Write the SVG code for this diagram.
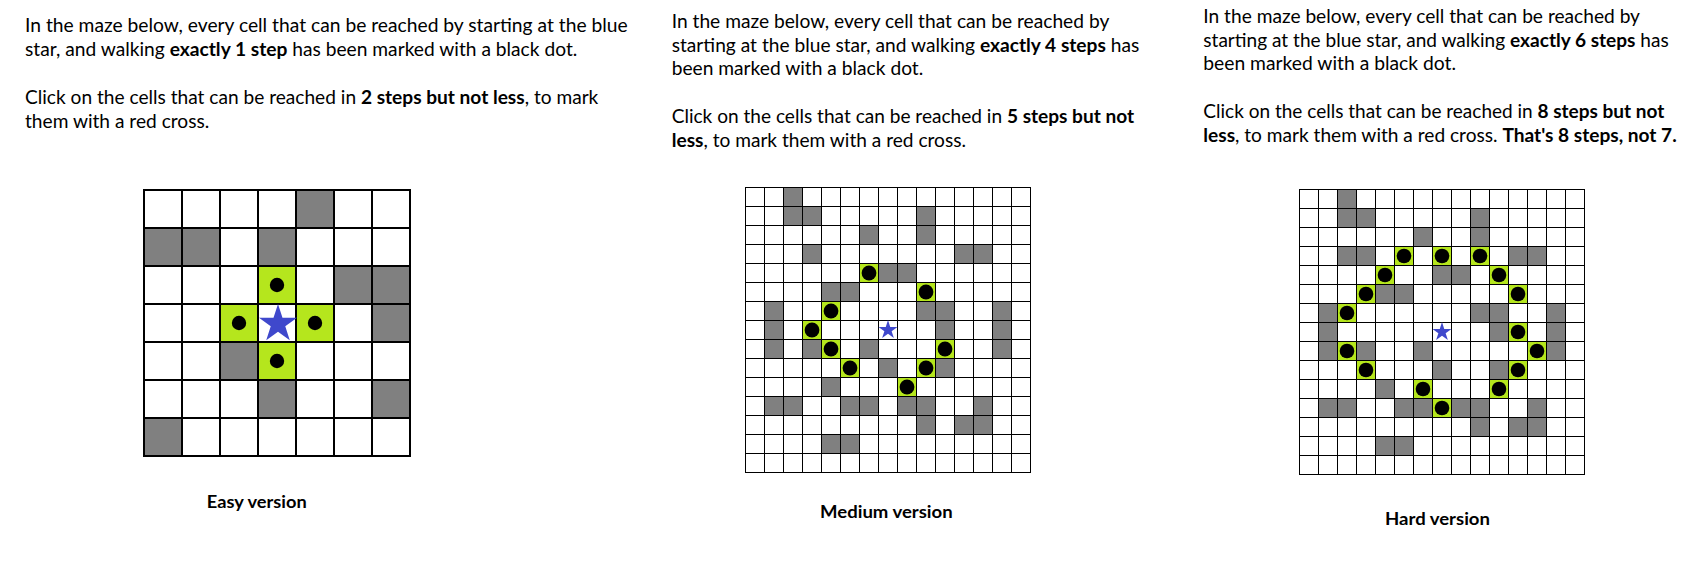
<svg xmlns="http://www.w3.org/2000/svg" xmlns:xlink="http://www.w3.org/1999/xlink" width="1705" height="585" viewBox="0 0 1705 585">
<style>
.t{font-family:Lato,"Liberation Sans",sans-serif;font-size:18.5px;fill:#000}
.b{font-weight:bold}
.lab{font-family:Lato,"Liberation Sans",sans-serif;font-size:16.5px;font-weight:bold;fill:#000}
.g{fill:#808080}
.y{fill:#b5e61d}
.d{fill:#000}
.s{fill:#3f48cc}
.g1{stroke:#000;stroke-width:2;fill:none;stroke-linecap:square}
.g2{stroke:#000;stroke-width:1;fill:none;stroke-linecap:square}
</style>
<defs>
<polygon id="star" points="0,-1 0.2245,-0.309 0.9511,-0.309 0.3633,0.118 0.5878,0.809 0,0.382 -0.5878,0.809 -0.3633,0.118 -0.9511,-0.309 -0.2245,-0.309"/>
<path id="grid7" d="M0 0V266M38 0V266M76 0V266M114 0V266M152 0V266M190 0V266M228 0V266M266 0V266M0 0H266M0 38H266M0 76H266M0 114H266M0 152H266M0 190H266M0 228H266M0 266H266"/>
<path id="grid15" d="M0 0V285M19 0V285M38 0V285M57 0V285M76 0V285M95 0V285M114 0V285M133 0V285M152 0V285M171 0V285M190 0V285M209 0V285M228 0V285M247 0V285M266 0V285M285 0V285M0 0H285M0 19H285M0 38H285M0 57H285M0 76H285M0 95H285M0 114H285M0 133H285M0 152H285M0 171H285M0 190H285M0 209H285M0 228H285M0 247H285M0 266H285M0 285H285"/>
<g id="walls15" class="g">
<rect x="38" y="0" width="19" height="19"/>
<rect x="38" y="19" width="38" height="19"/><rect x="171" y="19" width="19" height="19"/>
<rect x="114" y="38" width="19" height="19"/><rect x="171" y="38" width="19" height="19"/>
<rect x="57" y="57" width="19" height="19"/><rect x="209" y="57" width="38" height="19"/>
<rect x="133" y="76" width="38" height="19"/>
<rect x="76" y="95" width="38" height="19"/>
<rect x="19" y="114" width="19" height="19"/><rect x="171" y="114" width="38" height="19"/><rect x="247" y="114" width="19" height="19"/>
<rect x="19" y="133" width="19" height="19"/><rect x="190" y="133" width="19" height="19"/><rect x="247" y="133" width="19" height="19"/>
<rect x="19" y="152" width="19" height="19"/><rect x="57" y="152" width="19" height="19"/><rect x="114" y="152" width="19" height="19"/><rect x="247" y="152" width="19" height="19"/>
<rect x="133" y="171" width="19" height="19"/><rect x="190" y="171" width="19" height="19"/>
<rect x="76" y="190" width="19" height="19"/>
<rect x="19" y="209" width="38" height="19"/><rect x="95" y="209" width="38" height="19"/><rect x="152" y="209" width="38" height="19"/><rect x="228" y="209" width="19" height="19"/>
<rect x="171" y="228" width="19" height="19"/><rect x="209" y="228" width="38" height="19"/>
<rect x="76" y="247" width="38" height="19"/>
</g>
</defs>

<g id="easy-text">
<text class="t" x="25" y="32.3" textLength="602.7" lengthAdjust="spacingAndGlyphs">In the maze below, every cell that can be reached by starting at the blue</text>
<text class="t" x="25" y="55.7" textLength="552.3" lengthAdjust="spacingAndGlyphs">star, and walking <tspan class="b">exactly 1 step</tspan> has been marked with a black dot.</text>
<text class="t" x="25" y="104" textLength="573.3" lengthAdjust="spacingAndGlyphs">Click on the cells that can be reached in <tspan class="b">2 steps but not less</tspan>, to mark</text>
<text class="t" x="25" y="127.7" textLength="184.3" lengthAdjust="spacingAndGlyphs">them with a red cross.</text>
</g>

<g id="medium-text">
<text class="t" x="671.7" y="28.3" textLength="437.6" lengthAdjust="spacingAndGlyphs">In the maze below, every cell that can be reached by</text>
<text class="t" x="671.7" y="51.7" textLength="467.6" lengthAdjust="spacingAndGlyphs">starting at the blue star, and walking <tspan class="b">exactly 4 steps</tspan> has</text>
<text class="t" x="671.7" y="75" textLength="251.6" lengthAdjust="spacingAndGlyphs">been marked with a black dot.</text>
<text class="t" x="671.7" y="123.3" textLength="462.3" lengthAdjust="spacingAndGlyphs">Click on the cells that can be reached in <tspan class="b">5 steps but not</tspan></text>
<text class="t" x="671.7" y="146.7" textLength="294.3" lengthAdjust="spacingAndGlyphs"><tspan class="b">less</tspan>, to mark them with a red cross.</text>
</g>

<g id="hard-text">
<text class="t" x="1203.3" y="23.3" textLength="436.7" lengthAdjust="spacingAndGlyphs">In the maze below, every cell that can be reached by</text>
<text class="t" x="1203.3" y="46.7" textLength="465.4" lengthAdjust="spacingAndGlyphs">starting at the blue star, and walking <tspan class="b">exactly 6 steps</tspan> has</text>
<text class="t" x="1203.3" y="70" textLength="252.7" lengthAdjust="spacingAndGlyphs">been marked with a black dot.</text>
<text class="t" x="1203.3" y="118.3" textLength="461" lengthAdjust="spacingAndGlyphs">Click on the cells that can be reached in <tspan class="b">8 steps but not</tspan></text>
<text class="t" x="1203.3" y="141.7" textLength="473.4" lengthAdjust="spacingAndGlyphs"><tspan class="b">less</tspan>, to mark them with a red cross. <tspan class="b">That's 8 steps, not 7.</tspan></text>
</g>

<g id="easy-maze" transform="translate(144 190)">
<rect x="0" y="0" width="266" height="266" fill="#fff"/>
<g class="g">
<rect x="152" y="0" width="38" height="38"/>
<rect x="0" y="38" width="76" height="38"/>
<rect x="114" y="38" width="38" height="38"/>
<rect x="190" y="76" width="76" height="38"/>
<rect x="228" y="114" width="38" height="38"/>
<rect x="76" y="152" width="38" height="38"/>
<rect x="114" y="190" width="38" height="38"/>
<rect x="228" y="190" width="38" height="38"/>
<rect x="0" y="228" width="38" height="38"/>
</g>
<g class="y">
<rect x="114" y="76" width="38" height="38"/>
<rect x="76" y="114" width="38" height="38"/>
<rect x="152" y="114" width="38" height="38"/>
<rect x="114" y="152" width="38" height="38"/>
</g>
<use xlink:href="#grid7" class="g1"/>
<g class="d">
<circle cx="133" cy="95" r="7.2"/>
<circle cx="95" cy="133" r="7.2"/>
<circle cx="171" cy="133" r="7.2"/>
<circle cx="133" cy="171" r="7.2"/>
</g>
<use xlink:href="#star" class="s" transform="translate(134 134) scale(20)"/>
</g>

<g id="medium-maze" transform="translate(745.5 187.5)">
<rect x="0" y="0" width="285" height="285" fill="#fff"/>
<use xlink:href="#walls15"/>
<g class="y">
<rect x="114" y="76" width="19" height="19"/>
<rect x="171" y="95" width="19" height="19"/>
<rect x="76" y="114" width="19" height="19"/>
<rect x="57" y="133" width="19" height="19"/>
<rect x="76" y="152" width="19" height="19"/>
<rect x="190" y="152" width="19" height="19"/>
<rect x="95" y="171" width="19" height="19"/>
<rect x="171" y="171" width="19" height="19"/>
<rect x="152" y="190" width="19" height="19"/>
</g>
<use xlink:href="#grid15" class="g2"/>
<g class="d">
<circle cx="123.5" cy="85.5" r="7.4"/>
<circle cx="180.5" cy="104.5" r="7.4"/>
<circle cx="85.5" cy="123.5" r="7.4"/>
<circle cx="66.5" cy="142.5" r="7.4"/>
<circle cx="85.5" cy="161.5" r="7.4"/>
<circle cx="199.5" cy="161.5" r="7.4"/>
<circle cx="104.5" cy="180.5" r="7.4"/>
<circle cx="180.5" cy="180.5" r="7.4"/>
<circle cx="161.5" cy="199.5" r="7.4"/>
</g>
<use xlink:href="#star" class="s" transform="translate(142.5 142.5) scale(10)"/>
</g>

<g id="hard-maze" transform="translate(1299.5 189.5)">
<rect x="0" y="0" width="285" height="285" fill="#fff"/>
<use xlink:href="#walls15"/>
<rect class="g" x="38" y="57" width="19" height="19"/>
<g class="y">
<rect x="95" y="57" width="19" height="19"/>
<rect x="133" y="57" width="19" height="19"/>
<rect x="171" y="57" width="19" height="19"/>
<rect x="76" y="76" width="19" height="19"/>
<rect x="190" y="76" width="19" height="19"/>
<rect x="57" y="95" width="19" height="19"/>
<rect x="209" y="95" width="19" height="19"/>
<rect x="38" y="114" width="19" height="19"/>
<rect x="209" y="133" width="19" height="19"/>
<rect x="38" y="152" width="19" height="19"/>
<rect x="228" y="152" width="19" height="19"/>
<rect x="57" y="171" width="19" height="19"/>
<rect x="209" y="171" width="19" height="19"/>
<rect x="114" y="190" width="19" height="19"/>
<rect x="190" y="190" width="19" height="19"/>
<rect x="133" y="209" width="19" height="19"/>
</g>
<use xlink:href="#grid15" class="g2"/>
<g class="d">
<circle cx="104.5" cy="66.5" r="7.3"/>
<circle cx="142.5" cy="66.5" r="7.3"/>
<circle cx="180.5" cy="66.5" r="7.3"/>
<circle cx="85.5" cy="85.5" r="7.3"/>
<circle cx="199.5" cy="85.5" r="7.3"/>
<circle cx="66.5" cy="104.5" r="7.3"/>
<circle cx="218.5" cy="104.5" r="7.3"/>
<circle cx="47.5" cy="123.5" r="7.3"/>
<circle cx="218.5" cy="142.5" r="7.3"/>
<circle cx="47.5" cy="161.5" r="7.3"/>
<circle cx="237.5" cy="161.5" r="7.3"/>
<circle cx="66.5" cy="180.5" r="7.3"/>
<circle cx="218.5" cy="180.5" r="7.3"/>
<circle cx="123.5" cy="199.5" r="7.3"/>
<circle cx="199.5" cy="199.5" r="7.3"/>
<circle cx="142.5" cy="218.5" r="7.3"/>
</g>
<use xlink:href="#star" class="s" transform="translate(142.5 142.5) scale(10)"/>
</g>

<g id="labels">
<text class="lab" x="206.7" y="508.3" textLength="100" lengthAdjust="spacingAndGlyphs">Easy version</text>
<text class="lab" x="820" y="518.3" textLength="132.7" lengthAdjust="spacingAndGlyphs">Medium version</text>
<text class="lab" x="1385" y="525" textLength="105" lengthAdjust="spacingAndGlyphs">Hard version</text>
</g>
</svg>
